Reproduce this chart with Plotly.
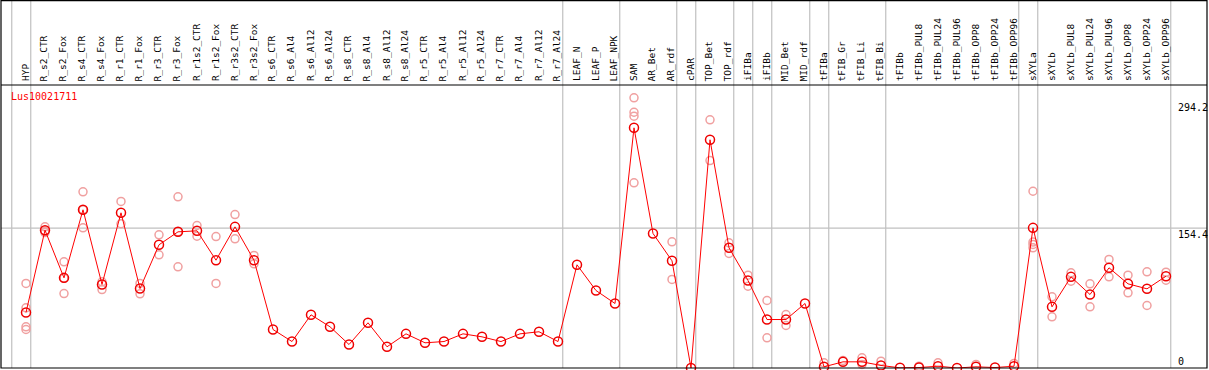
import plotly.graph_objects as go

categories = ["HYP", "R_s2_CTR", "R_s2_Fox", "R_s4_CTR", "R_s4_Fox", "R_r1_CTR", "R_r1_Fox",
              "R_r3_CTR", "R_r3_Fox", "R_r1s2_CTR", "R_r1s2_Fox", "R_r3s2_CTR", "R_r3s2_Fox",
              "R_s6_CTR", "R_s6_Al4", "R_s6_Al12", "R_s6_Al24", "R_s8_CTR", "R_s8_Al4", "R_s8_Al12",
              "R_s8_Al24", "R_r5_CTR", "R_r5_Al4", "R_r5_Al12", "R_r5_Al24", "R_r7_CTR", "R_r7_Al4",
              "R_r7_Al12", "R_r7_Al24", "LEAF_N", "LEAF_P", "LEAF_NPK", "SAM", "AR_Bet", "AR_rdf",
              "cPAR", "TOP_Bet", "TOP_rdf", "iFIBa", "iFIBb", "MID_Bet", "MID_rdf", "tFIBa",
              "tFIB_Gr", "tFIB_Li", "tFIB_Bi", "tFIBb", "tFIBb_PUL8", "tFIBb_PUL24", "tFIBb_PUL96",
              "tFIBb_OPP8", "tFIBb_OPP24", "tFIBb_OPP96", "sXYLa", "sXYLb", "sXYLb_PUL8",
              "sXYLb_PUL24", "sXYLb_PUL96", "sXYLb_OPP8", "sXYLb_OPP24", "sXYLb_OPP96"]

mean_values = [61.3, 152.1, 99.5, 174.6, 92.2, 171.3, 87.7, 136.0, 150.3, 151.4,
               119.0, 155.8, 119.0, 42.5, 29.2, 58.7, 45.5, 25.9, 49.9, 23.4,
               37.7, 27.8, 29.2, 37.7, 34.4, 29.2, 37.7, 40.0, 29.2, 113.9,
               85.5, 71.2, 265.1, 148.5, 118.3, 0.0, 251.9, 132.7, 96.6, 53.5,
               53.5, 71.2, 1.3, 6.8, 6.8, 2.8, 0.2, 0.5, 2.0, 0.0,
               1.3, 0.5, 2.0, 154.7, 67.5, 100.6, 81.1, 110.6, 92.9, 87.4, 101.3]

replicates = {
    "HYP": [93.3, 66.4, 45.5, 42.5],
    "R_s2_CTR": [155.8, 151.0, 149.5],
    "R_s2_Fox": [117.2, 82.2, 99.0],
    "R_s4_CTR": [194.5, 154.7, 174.6],
    "R_s4_Fox": [95.1, 86.6],
    "R_r1_CTR": [183.8, 159.2],
    "R_r1_Fox": [93.3, 81.9],
    "R_r3_CTR": [147.0, 124.9],
    "R_r3_Fox": [189.0, 111.7, 150.3],
    "R_r1s2_CTR": [157.3, 145.5],
    "R_r1s2_Fox": [145.1, 93.3],
    "R_r3s2_CTR": [169.4, 142.6],
    "R_r3s2_Fox": [124.2, 115.0],
    "SAM": [298.2, 282.3, 277.9, 204.4],
    "AR_rdf": [139.3, 97.7],
    "TOP_Bet": [273.9, 229.0],
    "TOP_rdf": [138.2, 126.4],
    "iFIBa": [102.4, 90.3],
    "iFIBb": [74.5, 33.3],
    "MID_Bet": [59.0, 46.9],
    "tFIBa": [5.7],
    "tFIB_Gr": [8.3],
    "tFIB_Li": [11.3, 3.9],
    "tFIB_Bi": [7.5],
    "tFIBb_PUL8": [2.0],
    "tFIBb_PUL24": [5.7],
    "tFIBb_OPP8": [3.9],
    "tFIBb_OPP96": [5.0],
    "sXYLa": [195.1, 139.0, 136.3, 132.7],
    "sXYLb": [78.6, 56.5],
    "sXYLb_PUL8": [105.1, 95.8],
    "sXYLb_PUL24": [92.9, 67.5],
    "sXYLb_PUL96": [119.8, 100.6],
    "sXYLb_OPP8": [102.4, 83.0],
    "sXYLb_OPP24": [106.2, 69.0],
    "sXYLb_OPP96": [105.8, 96.9],
}

# last category of each group (group separators drawn after these)
group_ends = ["HYP", "R_r7_Al24", "LEAF_NPK", "AR_rdf", "cPAR", "TOP_rdf", "iFIBa", "iFIBb",
              "MID_rdf", "tFIBa", "tFIB_Bi", "tFIBb_OPP96", "sXYLa", "sXYLb_OPP96"]

y_ticks = [294.2, 154.4, 0]
title = "Lus10021711"

idx = list(range(len(categories)))
FONT = "DejaVu Sans Mono"

rx, ry = [], []
for name, vals in replicates.items():
    i = categories.index(name)
    for v in vals:
        rx.append(i)
        ry.append(v)

fig = go.Figure()
fig.add_trace(go.Scatter(
    x=rx, y=ry, mode="markers",
    marker=dict(symbol="circle-open", size=8, color="#f0a0a0", line=dict(width=1.5)),
    hoverinfo="skip", cliponaxis=False))
fig.add_trace(go.Scatter(
    x=idx, y=mean_values, mode="lines+markers",
    line=dict(color="#ff0000", width=1),
    marker=dict(symbol="circle-open", size=9, color="#ee0000", line=dict(width=1.5)),
    cliponaxis=False))

H_PLOT = 283
top_extra = 1 + 85 / H_PLOT

shapes = []
seps = [-1] + [categories.index(g) for g in group_ends]
for s in seps:
    shapes.append(dict(type="line", xref="x", yref="paper", x0=s + 0.25, x1=s + 0.25,
                       y0=0, y1=top_extra, line=dict(color="#c0c0c0", width=1.2), layer="below"))
shapes.append(dict(type="line", xref="paper", yref="y", x0=0, x1=1, y0=y_ticks[1], y1=y_ticks[1],
                   line=dict(color="#c0c0c0", width=1.2), layer="below"))
shapes.append(dict(type="rect", xref="paper", yref="paper", x0=0, x1=1, y0=0, y1=top_extra - 0.6 / H_PLOT,
                   line=dict(color="black", width=1.2)))
shapes.append(dict(type="line", xref="paper", yref="paper", x0=0, x1=1, y0=1, y1=1,
                   line=dict(color="black", width=1.2)))

annotations = [dict(text=title, xref="paper", yref="paper", x=8 / 1206, y=1 - 4 / H_PLOT,
                    xanchor="left", yanchor="top", showarrow=False,
                    font=dict(family=FONT, size=10, color="#ff0000"))]
for t in y_ticks:
    annotations.append(dict(text=str(t) if t else "0", xref="paper", yref="y", x=1176 / 1206, y=t,
                            xanchor="left", yanchor="bottom" if t == 0 else "top",
                            showarrow=False, borderpad=0,
                            font=dict(family=FONT, size=10, color="black")))
for i, name in enumerate(categories):
    annotations.append(dict(text=name, xref="x", yref="paper", x=i - 0.03, y=1 + 3 / H_PLOT,
                            xanchor="center", yanchor="bottom", textangle=-90,
                            showarrow=False, borderpad=0,
                            font=dict(family=FONT, size=9.5, color="black")))

fig.update_layout(
    width=1209, height=370,
    margin=dict(l=1, r=2, t=85, b=2),
    paper_bgcolor="white", plot_bgcolor="white",
    showlegend=False,
    xaxis=dict(range=[-25 / 19, 1181 / 19], showticklabels=False, showgrid=False,
               zeroline=False, ticks="", fixedrange=True),
    yaxis=dict(range=[0, H_PLOT / 0.906], showgrid=False, zeroline=False, showticklabels=False,
               ticks="", fixedrange=True),
    shapes=shapes, annotations=annotations,
)

fig.write_html("out.html", config={"displayModeBar": False},
               post_script="document.body.style.margin='0';document.body.style.overflow='hidden';")
